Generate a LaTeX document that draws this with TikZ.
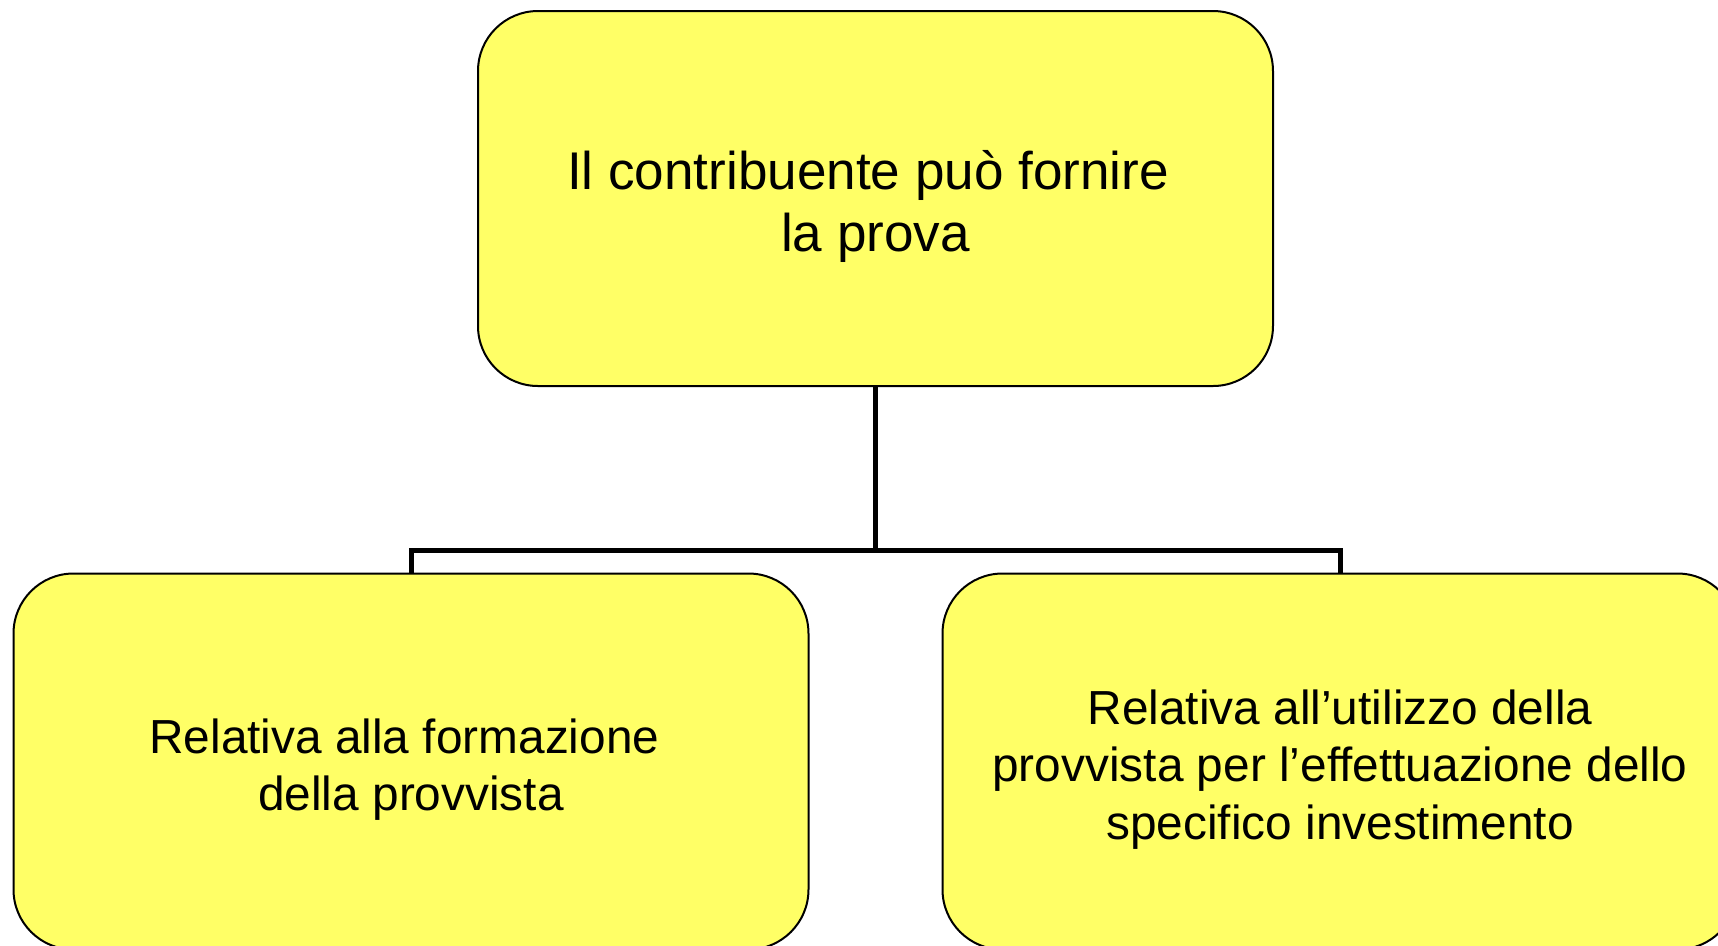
\documentclass[tikz,border=0pt]{standalone}
\usepackage{fontspec}
\setmainfont{Liberation Sans}
\definecolor{boxyellow}{RGB}{255,255,102}
\newcommand\liftline{\rule{0pt}{\dimexpr0.74em+1.5mm\relax}}
\begin{document}
\begin{tikzpicture}[x=0.1mm,y=-0.1mm,
    box/.style={draw,line width=0.2mm,fill=boxyellow,rounded corners=6mm,
        align=center,inner sep=0pt,minimum width=79.5mm,minimum height=37.6mm,
        font=\fontsize{13.6}{16.3}\selectfont},
    link/.style={line width=0.5mm}]
        \useasboundingbox (0,0) rectangle (1718,945);
        % boxes
        \node[box,minimum height=37.5mm,font=\fontsize{15.1}{17.6}\selectfont] (prova) at (875.5,198.5)
            {\liftline Il contribuente può fornire\kern.278em\\la prova};
        \node[box] (formazione) at (411,761.5)
            {\liftline Relativa alla formazione\kern.278em\\della provvista};
        \node[box] (utilizzo) at (1340,761.5)
            {\liftline Relativa all’utilizzo della\\provvista per l’effettuazione dello\\specifico investimento};
        % lines
        \coordinate (bus) at (875.5,550);
        \draw[link] (prova.south) -- (bus);
        \draw[link] (bus) -| (formazione.north);
        \draw[link] (bus) -| (utilizzo.north);
\end{tikzpicture}
\end{document}
